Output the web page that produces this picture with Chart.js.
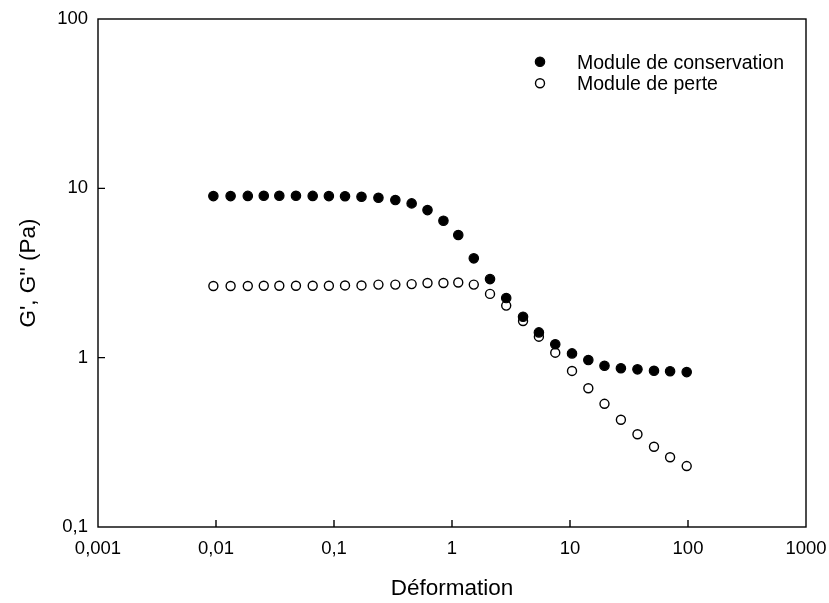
<!DOCTYPE html>
<html>
<head>
<meta charset="utf-8">
<script src="https://cdn.jsdelivr.net/npm/chart.js@4/dist/chart.umd.min.js"></script>
<style>
  html, body { margin: 0; padding: 0; background: #fff; }
  #wrap { width: 829px; height: 603px; }
</style>
</head>
<body>
<div id="wrap"><canvas id="c" width="829" height="603"></canvas></div>
<script>
// Amplitude sweep: strain (-) and moduli G', G'' (Pa)
const strain = [0.0095, 0.0133, 0.0186, 0.0254, 0.0344, 0.0476, 0.066, 0.0905, 0.124, 0.171,
                0.238, 0.331, 0.455, 0.62, 0.846, 1.13, 1.53, 2.1, 2.88, 4.0,
                5.45, 7.5, 10.4, 14.3, 19.6, 27.0, 37.3, 51.5, 70.5, 97.5];
const storageModulus = [9.0, 9.0, 9.02, 9.04, 9.04, 9.04, 9.02, 9.0, 8.98, 8.92,
                        8.80, 8.53, 8.15, 7.44, 6.44, 5.30, 3.86, 2.91, 2.25, 1.745,
                        1.41, 1.20, 1.06, 0.968, 0.896, 0.866, 0.853, 0.837, 0.832, 0.822];
const lossModulus = [2.65, 2.65, 2.65, 2.66, 2.66, 2.66, 2.66, 2.66, 2.67, 2.67,
                     2.70, 2.70, 2.72, 2.76, 2.76, 2.78, 2.70, 2.38, 2.03, 1.645,
                     1.33, 1.07, 0.835, 0.66, 0.534, 0.43, 0.353, 0.298, 0.258, 0.229];
const seriesNames = ['Module de conservation', 'Module de perte'];

const xTickValues = [0.001, 0.01, 0.1, 1, 10, 100, 1000];
const xTickLabels = ['0,001', '0,01', '0,1', '1', '10', '100', '1000'];
const yTickValues = [0.1, 1, 10, 100];
const yTickLabels = ['0,1', '1', '10', '100'];

const FONT = "Arial, 'Liberation Sans', Helvetica, sans-serif";

function labelFor(values, labels, v) {
  for (let i = 0; i < values.length; i++) {
    if (Math.abs(Math.log10(values[i]) - Math.log10(v)) < 1e-6) return labels[i];
  }
  return '';
}

// Box frame, inward tick marks and the in-plot legend
const framePlugin = {
  id: 'frame',
  afterDraw(chart) {
    const { ctx, chartArea: a, scales } = chart;
    ctx.save();
    ctx.strokeStyle = '#000';
    ctx.lineWidth = 1.4;
    ctx.strokeRect(a.left, a.top, a.right - a.left, a.bottom - a.top);
    const tl = 7;
    ctx.beginPath();
    xTickValues.forEach(v => {
      const px = scales.x.getPixelForValue(v);
      if (px - a.left < 1 || a.right - px < 1) return;
      ctx.moveTo(px, a.bottom);
      ctx.lineTo(px, a.bottom - tl);
    });
    yTickValues.forEach(v => {
      const py = scales.y.getPixelForValue(v);
      if (py - a.top < 1 || a.bottom - py < 1) return;
      ctx.moveTo(a.left, py);
      ctx.lineTo(a.left + tl, py);
    });
    ctx.stroke();

    // legend
    const mx = a.left + 442, tx = a.left + 479;
    const rows = [a.top + 42.7, a.top + 64.3];
    ctx.font = '19.5px ' + FONT;
    ctx.textBaseline = 'alphabetic';
    ctx.textAlign = 'left';
    chart.data.datasets.forEach((ds, i) => {
      const y = rows[i];
      ctx.beginPath();
      ctx.arc(mx, y, ds.pointRadius, 0, Math.PI * 2);
      ctx.fillStyle = ds.backgroundColor;
      ctx.fill();
      ctx.lineWidth = ds.pointBorderWidth;
      ctx.strokeStyle = ds.borderColor;
      ctx.stroke();
      ctx.fillStyle = '#000';
      ctx.fillText(ds.label, tx, y + 6.8);
    });
    ctx.restore();
  }
};

new Chart(document.getElementById('c'), {
  type: 'scatter',
  data: {
    datasets: [
      {
        label: seriesNames[0],
        data: strain.map((x, i) => ({ x, y: storageModulus[i] })),
        pointRadius: 4.7,
        pointBorderWidth: 1.2,
        backgroundColor: '#000',
        borderColor: '#000',
        showLine: false
      },
      {
        label: seriesNames[1],
        data: strain.map((x, i) => ({ x, y: lossModulus[i] })),
        pointRadius: 4.5,
        pointBorderWidth: 1.4,
        backgroundColor: '#fff',
        borderColor: '#000',
        showLine: false
      }
    ]
  },
  options: {
    responsive: false,
    animation: false,
    devicePixelRatio: 1,
    layout: { padding: { left: 0, top: 19, right: 23, bottom: 0 } },
    plugins: { legend: { display: false }, tooltip: { enabled: false } },
    scales: {
      x: {
        type: 'logarithmic',
        position: 'bottom',
        min: 0.001,
        max: 1000,
        afterBuildTicks: s => { s.ticks = xTickValues.map(v => ({ value: v })); },
        afterFit: s => { s.height = 76; s.paddingLeft = 0; s.paddingRight = 0; },
        grid: { display: false, drawTicks: false },
        border: { display: false },
        ticks: {
          autoSkip: false,
          maxRotation: 0,
          padding: 11,
          color: '#000',
          font: { family: FONT, size: 18.5 },
          callback: v => labelFor(xTickValues, xTickLabels, v)
        },
        title: {
          display: true,
          text: 'Déformation',
          color: '#000',
          font: { family: FONT, size: 22.5 },
          padding: { top: 0, bottom: 1 }
        }
      },
      y: {
        type: 'logarithmic',
        position: 'left',
        min: 0.1,
        max: 100,
        afterBuildTicks: s => { s.ticks = yTickValues.map(v => ({ value: v })); },
        afterFit: s => { s.width = 98; s.paddingTop = 0; s.paddingBottom = 0; },
        grid: { display: false, drawTicks: false },
        border: { display: false },
        ticks: {
          autoSkip: false,
          padding: 10,
          color: '#000',
          font: { family: FONT, size: 18.5 },
          callback: v => labelFor(yTickValues, yTickLabels, v)
        },
        title: {
          display: true,
          text: "G', G'' (Pa)",
          color: '#000',
          font: { family: FONT, size: 22.5 },
          padding: { top: 15, bottom: 0 }
        }
      }
    }
  },
  plugins: [framePlugin]
});
</script>
</body>
</html>
